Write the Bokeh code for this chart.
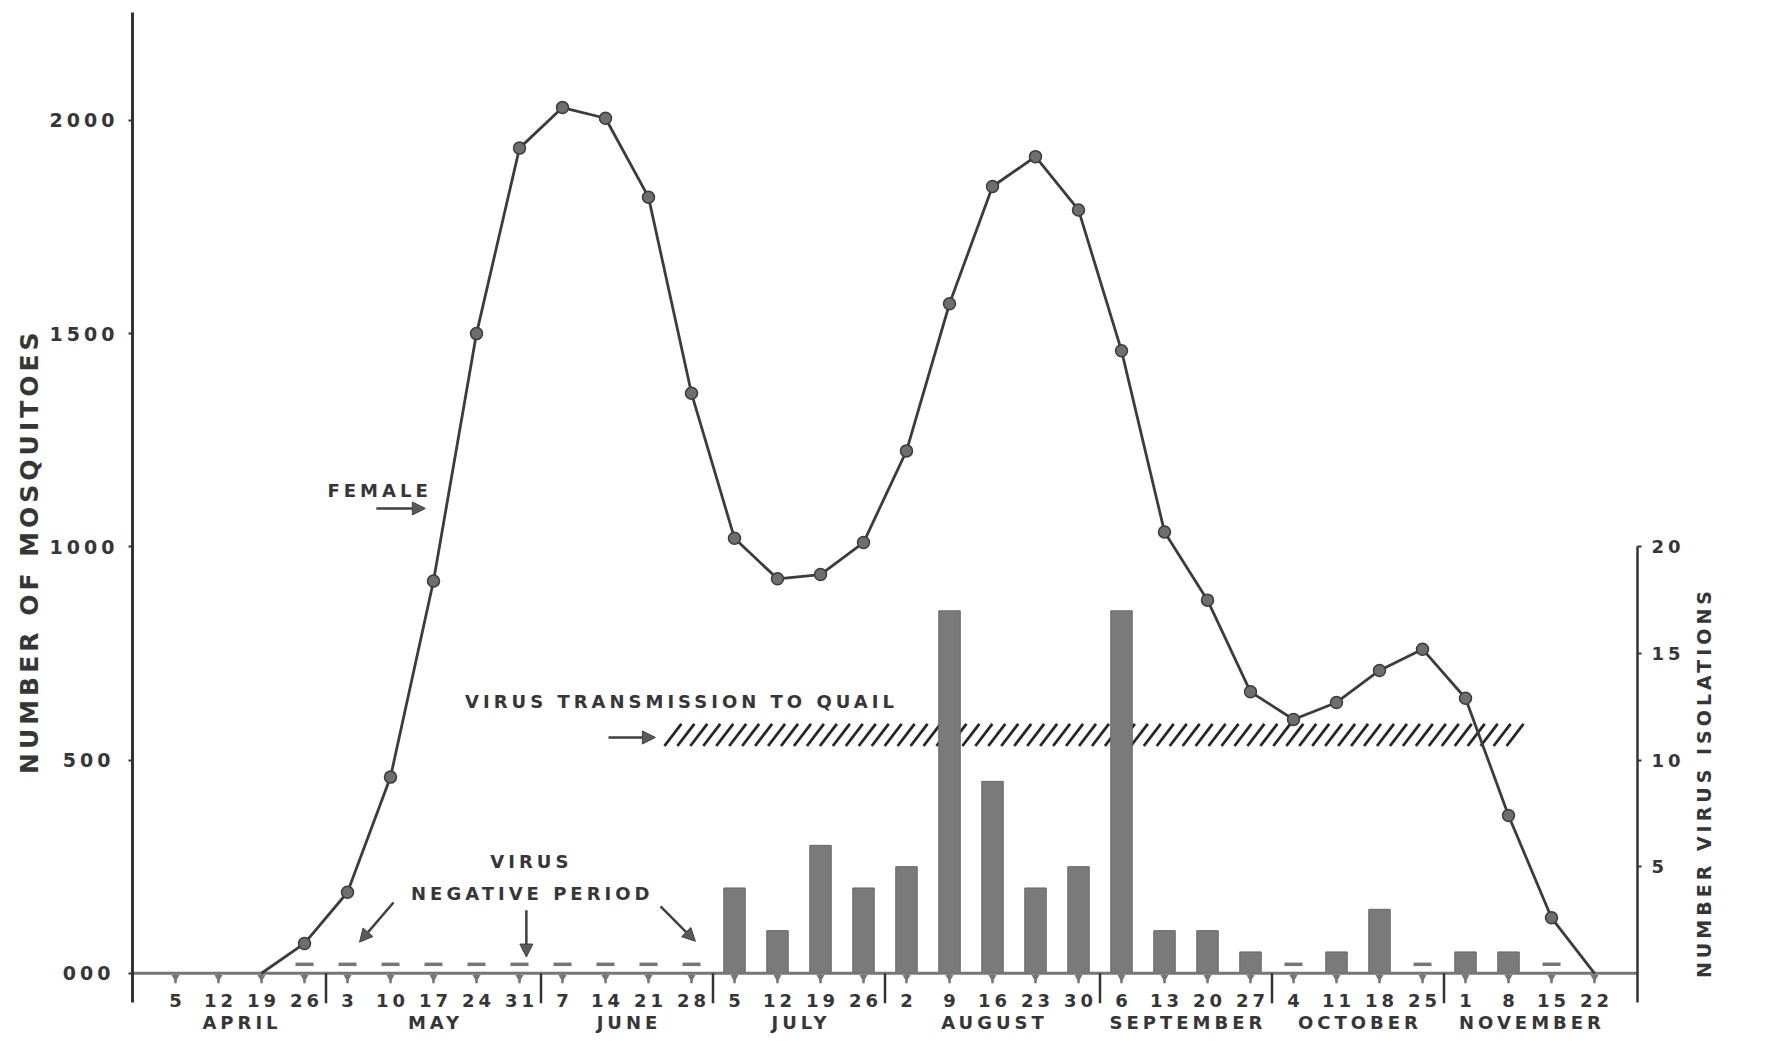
import numpy as np
from bokeh.plotting import figure
from bokeh.layouts import row
from bokeh.models import (Range1d, LinearAxis, FixedTicker, Label, Arrow,
                          NormalHead, ColumnDataSource)
from bokeh.core.properties import value
from bokeh.embed import file_html
from bokeh.resources import INLINE

# ---------------------------------------------------------------- data
months = ["APRIL", "MAY", "JUNE", "JULY", "AUGUST", "SEPTEMBER", "OCTOBER", "NOVEMBER"]
month_days = [
    [5, 12, 19, 26],
    [3, 10, 17, 24, 31],
    [7, 14, 21, 28],
    [5, 12, 19, 26],
    [2, 9, 16, 23, 30],
    [6, 13, 20, 27],
    [4, 11, 18, 25],
    [1, 8, 15, 22],
]

# female mosquitoes per weekly collection, April 19 .. November 22
female_first_week = 2
female_counts = [0, 70, 190, 460, 920, 1500, 1935, 2030, 2005, 1820,
                 1360, 1020, 925, 935, 1010, 1225, 1570, 1845, 1915, 1790,
                 1460, 1035, 875, 660, 595, 635, 710, 760, 645, 370, 130, 0]

# virus isolations per week: None = not tested, 0 = tested, negative
isolations = [None, None, None, 0, 0, 0, 0, 0, 0, 0, 0, 0, 0,
              4, 2, 6, 4,
              5, 17, 9, 4, 5,
              17, 2, 2, 1,
              0, 1, 3, 0,
              1, 1, 0, None]

mosq_ticks = [0, 500, 1000, 1500, 2000]
mosq_tick_labels = ["000", "500", "1000", "1500", "2000"]
iso_ticks = [5, 10, 15, 20]

left_title = "NUMBER OF MOSQUITOES"
right_title = "NUMBER VIRUS ISOLATIONS"

# period of virus transmission to sentinel quail (weeks, isolation scale)
transmission_weeks = (11.37, 31.35)
transmission_band = (10.66, 11.70)

# ---------------------------------------------------------------- derived
week_days = [d for days in month_days for d in days]
weeks = list(range(len(week_days)))
month_first = np.cumsum([0] + [len(d) for d in month_days])[:-1]
month_centers = [f + (len(d) - 1) / 2 for f, d in zip(month_first, month_days)]
month_breaks = [f - 0.5 for f in month_first[1:]]

H = 1041
LEFT_W, RIGHT_W = 45, 80             # strips that hold the axis titles
MAIN_W = 1768 - LEFT_W - RIGHT_W
FRAME_H = H - 12                     # frame height in pixels
Y0, Y1 = -160, 2253                  # mosquito scale
PPU = FRAME_H / (Y1 - Y0)            # pixels per mosquito
PPW = 43                             # pixels per week
RATIO = 50                           # mosquitoes per isolation on the right scale
LS = 4                               # letter spacing (px) applied to all text
CSS = ":host { letter-spacing: %dpx; }" % LS

def below(px):
    """value that lies px pixels under the base line"""
    return -px / PPU

def centred(text):
    """offset that re-centres a tracked string"""
    return -(len(text) - 1) * LS / 2

TEXT = "#363636"
DARK = "#333333"
GREY = "#767676"
FONT = value("DejaVu Sans")

p = figure(width=MAIN_W, height=H,
           x_range=Range1d(weeks[0] - 1, weeks[-1] + 1),
           y_range=Range1d(Y0, Y1),
           output_backend="svg", toolbar_location=None,
           x_axis_location=None, y_axis_location=None,
           min_border_left=132 - LEFT_W, min_border_right=131 - RIGHT_W,
           min_border_top=12, min_border_bottom=0,
           outline_line_color=None,
           background_fill_color="white", border_fill_color="white")
p.extra_y_ranges = {"iso": Range1d(Y0 / RATIO, Y1 / RATIO)}
p.stylesheets = [CSS]
for g in p.grid:
    g.visible = False

# hatched band: virus transmission to quail
h_lo, h_hi = transmission_band
stroke_dx = 17 / PPW
span = transmission_weeks[1] - stroke_dx - transmission_weeks[0]
n_strokes = int(round(span / (13 / PPW))) + 1
hx0 = np.linspace(transmission_weeks[0], transmission_weeks[1] - stroke_dx, n_strokes)
p.segment(x0=hx0, y0=h_lo, x1=hx0 + stroke_dx, y1=h_hi, y_range_name="iso",
          line_color="#262626", line_width=2.8, line_cap="butt")

# isolation bars and negative-week dashes
bar_x = [w for w, v in zip(weeks, isolations) if v]
bar_top = [v for v in isolations if v]
p.vbar(x=bar_x, top=bar_top, bottom=0, width=0.5, y_range_name="iso",
       fill_color="#7a7a7a", line_color="#6a6a6a", line_width=1)
neg_x = [w for w, v in zip(weeks, isolations) if v == 0]
p.scatter(x=neg_x, y=[0.42] * len(neg_x), marker="dash", size=18,
          line_width=3.5, line_color=GREY, y_range_name="iso")

# horizontal base line with weekly ticks and month separators
p.segment(x0=weeks[0] - 1, y0=0, x1=weeks[-1] + 1, y1=0,
          line_color=GREY, line_width=3)
p.segment(x0=weeks, y0=0, x1=weeks, y1=below(10), line_color=GREY, line_width=2.5)
p.scatter(x=weeks, y=[below(4)] * len(weeks), marker="inverted_triangle",
          size=8, fill_color=GREY, line_color=None)
p.segment(x0=month_breaks, y0=0, x1=month_breaks, y1=below(30),
          line_color=DARK, line_width=2.5)

day_text = [str(d) for d in week_days]
day_src = ColumnDataSource(dict(x=weeks, y=[below(27)] * len(weeks), t=day_text,
                                dx=[centred(t) for t in day_text]))
p.text(x="x", y="y", text="t", x_offset="dx", source=day_src, text_font=FONT,
       text_font_style="bold", text_font_size="18px", text_color=TEXT,
       text_align="center", text_baseline="middle")
mon_src = ColumnDataSource(dict(x=month_centers, y=[below(49)] * len(months), t=months,
                                dx=[centred(t) for t in months]))
p.text(x="x", y="y", text="t", x_offset="dx", source=mon_src, text_font=FONT,
       text_font_style="bold", text_font_size="18px", text_color=TEXT,
       text_align="center", text_baseline="middle")

# female mosquito curve
fx = weeks[female_first_week:]
p.line(fx, female_counts, line_color="#3c3c3c", line_width=2.8)
mx = [x for x, c in zip(fx, female_counts) if c > 0]
my = [c for c in female_counts if c > 0]
p.scatter(mx, my, marker="circle", size=12, fill_color="#6e6e6e",
          line_color="#3c3c3c", line_width=1.5)

# axes
left = LinearAxis(ticker=FixedTicker(ticks=mosq_ticks), bounds=(below(29), Y1),
                  major_label_overrides=dict(zip(mosq_ticks, mosq_tick_labels)))
right = LinearAxis(y_range_name="iso", ticker=FixedTicker(ticks=iso_ticks),
                   bounds=(below(29) / RATIO, iso_ticks[-1]))
for ax, fs in ((left, "19px"), (right, "18px")):
    ax.axis_line_color = DARK
    ax.axis_line_width = 3 if ax is left else 2.5
    ax.major_tick_in = 0
    ax.major_tick_out = 4
    ax.major_tick_line_color = DARK
    ax.major_tick_line_width = 2
    ax.minor_tick_line_color = None
    ax.major_label_text_font = "DejaVu Sans"
    ax.major_label_text_font_style = "bold"
    ax.major_label_text_font_size = fs
    ax.major_label_text_color = TEXT
left.major_label_standoff = 26
right.major_label_standoff = 10
p.add_layout(left, "left")
p.add_layout(right, "right")

# annotations
note = dict(text_font="DejaVu Sans", text_font_style="bold", text_font_size="18px",
            text_color=TEXT, text_align="center", text_baseline="middle")

def note_label(x, y, text):
    p.add_layout(Label(x=x, y=y, text=text, x_offset=centred(text), **note))

note_label(4.70, 1132, "FEMALE")
note_label(11.72, 638, "VIRUS TRANSMISSION TO QUAIL")
note_label(8.23, 263, "VIRUS")
note_label(8.25, 188, "NEGATIVE PERIOD")

def arrow(x0, y0, x1, y1):
    p.add_layout(Arrow(end=NormalHead(size=13, fill_color="#5a5a5a", line_color="#404040",
                                      line_width=1),
                       x_start=x0, y_start=y0, x_end=x1, y_end=y1,
                       line_color="#404040", line_width=2.5))

arrow(4.67, 1090, 5.81, 1090)
arrow(10.07, 553, 11.16, 553)
arrow(5.07, 166, 4.28, 73)
arrow(8.16, 148, 8.16, 38)
arrow(11.28, 157, 12.09, 75)

# axis titles in narrow side strips (pixel coordinates)
def title_strip(width, cx, cy, text, size):
    f = figure(width=width, height=H, x_range=Range1d(0, width), y_range=Range1d(0, H),
               output_backend="svg", toolbar_location=None,
               x_axis_location=None, y_axis_location=None,
               min_border=0, outline_line_color=None,
               background_fill_color="white", border_fill_color="white")
    f.stylesheets = [CSS]
    for g in f.grid:
        g.visible = False
    f.text(x=[cx], y=[H - cy], text=[text], angle=np.pi / 2, y_offset=-centred(text),
           text_font=FONT, text_font_style="bold", text_font_size=size,
           text_color=TEXT, text_align="center", text_baseline="middle")
    return f

left_strip = title_strip(LEFT_W, 29, 547, left_title, "25px")
right_strip = title_strip(RIGHT_W, 1703 - (1768 - RIGHT_W), 781, right_title, "19px")

layout = row(left_strip, p, right_strip, spacing=0)
open("out.html", "w").write(file_html(layout, INLINE))
